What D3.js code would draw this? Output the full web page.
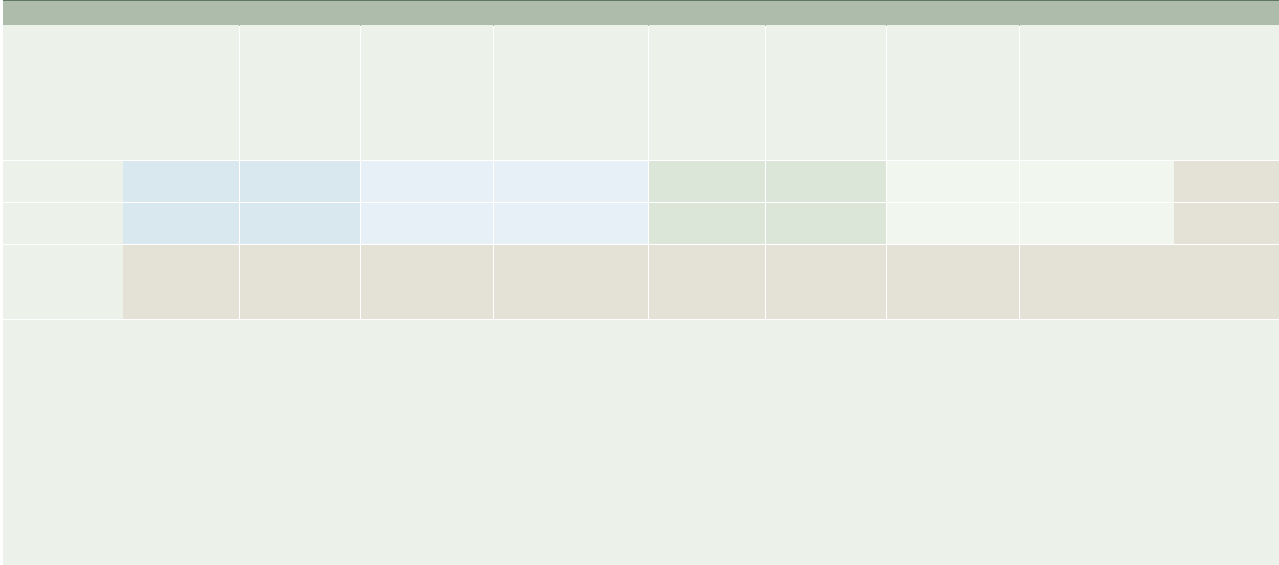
<!DOCTYPE html>
<html>
<head>
<meta charset="utf-8">
<script src="https://cdn.jsdelivr.net/npm/d3@7"></script>
<style>
  html, body { margin: 0; padding: 0; background: #ffffff; overflow: hidden; }
  svg { display: block; }
</style>
</head>
<body>
<script>
// Declare global Variables

const width = 1279; const height = 565;
const leftEdge = 3;
const bandHeight = 25;

// Column edges (table units) - the last column is split in two with no divider
const colEdges = [0, 120, 236, 357, 490, 645, 762, 883, 1016, 1171, 1276];

// Columns that get a white divider on their left edge
const dividerCols = [2, 3, 4, 5, 6, 7, 8];

// Row edges (table units): head row, two short rows, one tall row
const rowNames = ["head", "row1", "row2", "row3"];
const rowEdges = [0, 135, 177, 219, 294];

// Fill category of every cell, one list per row
const headCells = ["bg", "bg", "bg", "bg", "bg", "bg", "bg", "bg", "bg", "bg"];
const row1Cells = ["bg", "blue", "blue", "paleBlue", "paleBlue", "green", "green", "paleGreen", "paleGreen", "sand"];
const row2Cells = ["bg", "blue", "blue", "paleBlue", "paleBlue", "green", "green", "paleGreen", "paleGreen", "sand"];
const row3Cells = ["bg", "sand", "sand", "sand", "sand", "sand", "sand", "sand", "sand", "sand"];

const categories = ["bg", "blue", "paleBlue", "green", "paleGreen", "sand"];
const palette = ["#ecf1ea", "#d9e7ef", "#e7f0f7", "#dbe5d8", "#f1f6ef", "#e4e2d6"];

// Scales
let x = d3.scaleLinear()
    .domain([0, colEdges[colEdges.length - 1]])
    .range([leftEdge, width]);

let y = d3.scaleLinear()
    .domain([0, rowEdges[rowEdges.length - 1]])
    .range([bandHeight, bandHeight + 294]);

let color = d3.scaleOrdinal()
    .domain(categories)
    .range(palette);

const svg = d3.select("body")
    .append("svg")
    .attr("width", width)
    .attr("height", height)
    .attr("shape-rendering", "crispEdges");

// page background below the table
svg.append("rect")
    .attr("x", leftEdge)
    .attr("y", 0)
    .attr("width", width - leftEdge)
    .attr("height", height)
    .attr("fill", color("bg"));

// title band across the top
svg.append("rect")
    .attr("x", leftEdge)
    .attr("y", 0)
    .attr("width", width - leftEdge)
    .attr("height", bandHeight)
    .attr("fill", "#adbcab");

svg.append("rect")
    .attr("x", leftEdge)
    .attr("y", 0)
    .attr("width", width - leftEdge)
    .attr("height", 1)
    .attr("fill", "#5f7762");

// Build the cells from the row lists
const allRows = [headCells, row1Cells, row2Cells, row3Cells];
let cells = [];
allRows.forEach((row, r) => {
    row.forEach((cat, c) => {
        cells.push({ row: rowNames[r], r: r, c: c, cat: cat });
    });
});

svg.append("g")
    .attr("class", "cells")
    .selectAll("rect")
    .data(cells)
    .enter()
    .append("rect")
    .attr("x", d => x(colEdges[d.c]))
    .attr("y", d => y(rowEdges[d.r]))
    .attr("width", d => x(colEdges[d.c + 1]) - x(colEdges[d.c]))
    .attr("height", d => y(rowEdges[d.r + 1]) - y(rowEdges[d.r]))
    .attr("fill", d => color(d.cat));

// white row dividers (under head row and each body row)
svg.append("g")
    .attr("class", "rowLines")
    .selectAll("rect")
    .data(rowEdges.slice(1))
    .enter()
    .append("rect")
    .attr("x", leftEdge)
    .attr("y", d => y(d))
    .attr("width", width - leftEdge)
    .attr("height", 1)
    .attr("fill", "#ffffff");

// white column dividers
svg.append("g")
    .attr("class", "colLines")
    .selectAll("rect")
    .data(dividerCols)
    .enter()
    .append("rect")
    .attr("x", d => x(colEdges[d]))
    .attr("y", y(0))
    .attr("width", 1)
    .attr("height", y(rowEdges[rowEdges.length - 1]) - y(0))
    .attr("fill", "#ffffff");

// small grey caps at the top of each divider
svg.append("g")
    .attr("class", "colCaps")
    .selectAll("rect")
    .data(dividerCols)
    .enter()
    .append("rect")
    .attr("x", d => x(colEdges[d]))
    .attr("y", y(0))
    .attr("width", 1)
    .attr("height", 1)
    .attr("fill", "#a9b3a8");
</script>
</body>
</html>
